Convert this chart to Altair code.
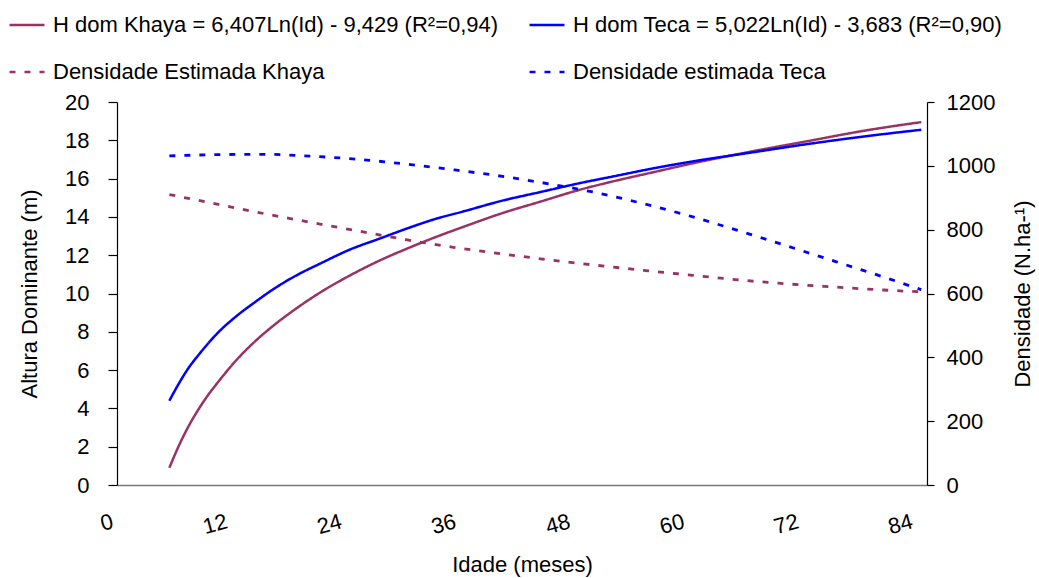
import altair as alt
import pandas as pd

# Series names (legend text)
S_KH = "H dom Khaya = 6,407Ln(Id) - 9,429 (R²=0,94)"
S_TH = "H dom Teca = 5,022Ln(Id) - 3,683 (R²=0,90)"
S_KD = "Densidade Estimada Khaya"
S_TD = "Densidade estimada Teca"

# Dominant height (m)
idade_h = [5, 6, 7, 8, 9, 10, 12, 14, 16, 18, 21, 24, 27, 30, 33, 36, 40, 44, 48, 52, 56, 60, 66, 72, 78, 84]
h_khaya = [0.9, 2.05, 3.05, 3.9, 4.65, 5.3, 6.5, 7.5, 8.35, 9.1, 10.1, 10.95, 11.7, 12.35, 12.95,
           13.5, 14.2, 14.8, 15.4, 15.9, 16.35, 16.8, 17.4, 17.95, 18.5, 18.95]
h_teca = [4.4, 5.3, 6.1, 6.75, 7.35, 7.9, 8.8, 9.55, 10.25, 10.85, 11.6, 12.3, 12.85, 13.4, 13.9,
          14.3, 14.85, 15.3, 15.75, 16.15, 16.55, 16.9, 17.35, 17.8, 18.2, 18.55]

# Estimated density (N/ha)
idade_d = [5, 10, 15, 20, 25, 30, 35, 40, 45, 50, 55, 60, 65, 70, 75, 80, 84]
d_khaya = [910, 880, 850, 822, 795, 768, 744, 724, 705, 688, 672, 657, 642, 630, 620, 611, 605]
d_teca = [1031, 1035, 1036, 1030, 1020, 1005, 987, 967, 943, 915, 880, 840, 795, 748, 700, 652, 612]

x_ticks = [0, 12, 24, 36, 48, 60, 72, 84]
y_left_ticks = list(range(0, 21, 2))
y_right_ticks = list(range(0, 1201, 200))

KH_COLOR = "#993366"
TE_COLOR = "#0000FF"

df_h = pd.DataFrame(
    [{"Idade": a, "altura": v, "serie": S_KH} for a, v in zip(idade_h, h_khaya)]
    + [{"Idade": a, "altura": v, "serie": S_TH} for a, v in zip(idade_h, h_teca)]
)
df_d = pd.DataFrame(
    [{"Idade": a, "densidade": v, "serie": S_KD} for a, v in zip(idade_d, d_khaya)]
    + [{"Idade": a, "densidade": v, "serie": S_TD} for a, v in zip(idade_d, d_teca)]
)

# legend fills column by column: col 1 = Khaya, col 2 = Teca
domain = [S_KH, S_KD, S_TH, S_TD]
color = alt.Color(
    "serie:N",
    scale=alt.Scale(domain=domain, range=[KH_COLOR, KH_COLOR, TE_COLOR, TE_COLOR]),
    legend=alt.Legend(title=None),
)
dash = alt.StrokeDash(
    "serie:N",
    scale=alt.Scale(domain=domain, range=[[1, 0], [6, 9], [1, 0], [6, 9]]),
    legend=alt.Legend(title=None),
)

x_enc = alt.X(
    "Idade:Q",
    scale=alt.Scale(domain=[-0.5, 84.6], nice=False, zero=False),
    axis=alt.Axis(
        values=x_ticks,
        title="Idade (meses)",
        ticks=False,
        labelAngle=345,
        labelOffset=-12,
        labelPadding=26,
        domainColor="#777777",
        domainWidth=1.5,
        titlePadding=17,
    ),
)

heights = alt.Chart(df_h).mark_line(strokeWidth=2.5, interpolate="monotone").encode(
    x=x_enc,
    y=alt.Y(
        "altura:Q",
        scale=alt.Scale(domain=[0, 20], nice=False),
        axis=alt.Axis(
            values=y_left_ticks,
            title="Altura Dominante (m)",
            tickSize=9,
            labelPadding=19,
            titlePadding=23,
        ),
    ),
    color=color,
    strokeDash=dash,
)

density = alt.Chart(df_d).mark_line(strokeWidth=2.8, interpolate="monotone").encode(
    x=x_enc,
    y=alt.Y(
        "densidade:Q",
        scale=alt.Scale(domain=[0, 1200], nice=False),
        axis=alt.Axis(
            orient="right",
            values=y_right_ticks,
            format="d",
            title="Densidade (N.ha-¹)",
            titleAngle=270,
            tickSize=7,
            labelPadding=12,
            titlePadding=40,
        ),
    ),
    color=color,
    strokeDash=dash,
)

chart = (
    alt.layer(heights, density)
    .resolve_scale(y="independent")
    .properties(
        width=810,
        height=383,
        autosize=alt.AutoSizeParams(type="none"),
        padding={"left": 117, "top": 102, "right": 112, "bottom": 93},
    )
    .configure(font="Liberation Sans")
    .configure_view(stroke=None)
    .configure_axis(
        grid=False,
        labelFontSize=22,
        titleFontSize=22,
        titleFontWeight="normal",
        labelColor="black",
        titleColor="black",
        domainColor="black",
        tickColor="black",
        domainWidth=1.2,
        tickWidth=1.2,
    )
    .configure_legend(
        orient="none",
        legendX=-109,
        legendY=-96,
        columns=2,
        columnPadding=25,
        rowPadding=17,
        padding=0,
        symbolType="stroke",
        symbolSize=1225,
        symbolStrokeWidth=2.5,
        labelFontSize=22,
        labelLimit=1000,
        labelOffset=7,
        labelColor="black",
    )
)

chart.save("out.html", embed_options={"renderer": "svg", "actions": False})
